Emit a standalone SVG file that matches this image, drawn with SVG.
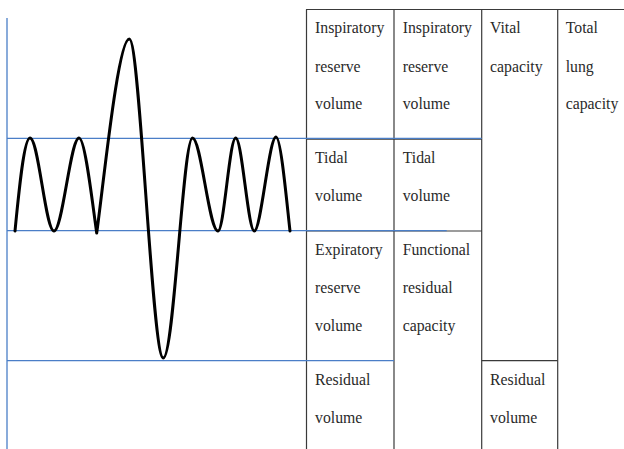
<svg xmlns="http://www.w3.org/2000/svg" width="624" height="449" viewBox="0 0 624 449">
<style>
.t{font-family:"Liberation Serif","Times New Roman",serif;font-size:15.8px;fill:#2a2a2a}
.g{stroke:#3a3a3a;stroke-width:1.2;fill:none}
.b{stroke:#4a7ec7;stroke-width:1.3;fill:none}
.w{stroke:#000;stroke-width:3;fill:none;stroke-linejoin:round;stroke-linecap:round}
</style>
<rect width="624" height="449" fill="#fff"/>
<g id="grid">
<line class="g" x1="306" y1="9.5" x2="624" y2="9.5"/>
<line class="g" x1="306.5" y1="9.5" x2="306.5" y2="449"/>
<line class="g" x1="394" y1="9.5" x2="394" y2="449"/>
<line class="g" x1="481.7" y1="9.5" x2="481.7" y2="449"/>
<line class="g" x1="557.7" y1="9.5" x2="557.7" y2="449"/>
<line class="g" x1="306" y1="139.2" x2="481.7" y2="139.2"/>
<line class="g" x1="306" y1="231" x2="481.7" y2="231"/>
<line class="g" x1="481.7" y1="360.7" x2="557.7" y2="360.7"/>
<line class="b" x1="7" y1="18" x2="7" y2="449"/>
<line class="b" x1="7" y1="138.3" x2="481.7" y2="138.3"/>
<line class="b" x1="7" y1="230.7" x2="446.7" y2="230.7"/>
<line class="b" x1="7" y1="360.7" x2="394" y2="360.7"/>
</g>
<g id="wave">
<path class="w" d="M15,231 C19,190 24,138 30,138 C38.5,138 45.5,231 54,231 C62.5,231 70.5,138 79,138 C85,138 92,200 96.7,233 C104,180 118,39 129.3,39 C140,39 152,358 163.3,358 C174,358 183,138 192.5,138 C201,138 209,231 218,231 C224,231 229.5,138 235.7,138 C242,138 248,231 254.3,231 C261,231 269,137 276,137 C281,137 287,205 290,231"/>
</g>
<g id="irv1"><text class="t" x="315" y="33.3">Inspiratory</text><text class="t" x="315" y="71.5">reserve</text><text class="t" x="315" y="109.3">volume</text></g>
<g id="irv2"><text class="t" x="402.7" y="33.3">Inspiratory</text><text class="t" x="402.7" y="71.5">reserve</text><text class="t" x="402.7" y="109.3">volume</text></g>
<g id="vc"><text class="t" x="490" y="33.3">Vital</text><text class="t" x="490" y="71.5">capacity</text></g>
<g id="tlc"><text class="t" x="565.7" y="33.3">Total</text><text class="t" x="565.7" y="71.5">lung</text><text class="t" x="565.7" y="109.3">capacity</text></g>
<g id="tv1"><text class="t" x="315" y="163.3">Tidal</text><text class="t" x="315" y="200.7">volume</text></g>
<g id="tv2"><text class="t" x="402.7" y="163.3">Tidal</text><text class="t" x="402.7" y="200.7">volume</text></g>
<g id="erv"><text class="t" x="315" y="255">Expiratory</text><text class="t" x="315" y="293.3">reserve</text><text class="t" x="315" y="331">volume</text></g>
<g id="frc"><text class="t" x="402.7" y="255">Functional</text><text class="t" x="402.7" y="293.3">residual</text><text class="t" x="402.7" y="331">capacity</text></g>
<g id="rv1"><text class="t" x="315" y="385">Residual</text><text class="t" x="315" y="422.7">volume</text></g>
<g id="rv2"><text class="t" x="490" y="385">Residual</text><text class="t" x="490" y="422.7">volume</text></g>
</svg>
